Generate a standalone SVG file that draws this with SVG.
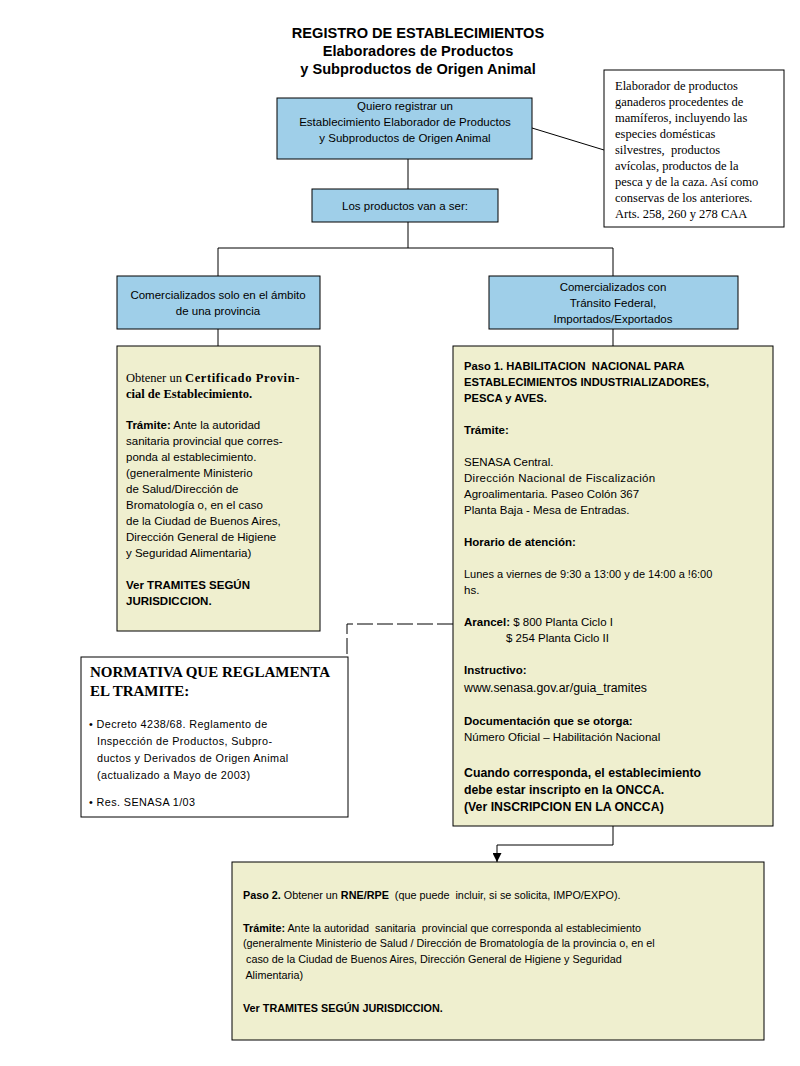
<svg xmlns="http://www.w3.org/2000/svg" width="800" height="1066" viewBox="0 0 800 1066">
<style>
.bg{fill:#ffffff}
.blue{fill:#9fcfe9;stroke:#000;stroke-width:1}
.yel{fill:#efefcf;stroke:#000;stroke-width:1}
.wht{fill:#ffffff;stroke:#000;stroke-width:1}
.con{fill:none;stroke:#000;stroke-width:1}
.dash{fill:none;stroke:#000;stroke-width:1;stroke-dasharray:16,4}
.title{font-family:"Liberation Sans",Arial,sans-serif;font-size:14.6px;font-weight:bold;fill:#000;text-anchor:middle}
.s{font-family:"Liberation Sans",Arial,sans-serif;font-size:11.5px;fill:#000}
.c{text-anchor:middle}
.b{font-weight:bold}
.serif{font-family:"Liberation Serif","Times New Roman",serif;font-size:12.5px;fill:#000}
.big{font-size:12.5px}
.p7{font-size:10.8px}
.norm{font-family:"Liberation Sans",Arial,sans-serif;font-size:10.8px;fill:#000;letter-spacing:0.4px}
</style>
<defs>
<marker id="arr" markerWidth="9" markerHeight="9" refX="9" refY="4.5" orient="auto" markerUnits="userSpaceOnUse">
<path d="M0,0 L9,4.5 L0,9 Z" fill="#000"/>
</marker>
</defs>
<rect class="bg" x="0" y="0" width="800" height="1066"/>

<g id="title">
<text class="title" x="418" y="38">REGISTRO DE ESTABLECIMIENTOS</text>
<text class="title" x="418" y="56">Elaboradores de Productos</text>
<text class="title" x="418" y="74">y Subproductos de Origen Animal</text>
</g>

<g id="connectors">
<line class="con" x1="532" y1="128" x2="604" y2="150"/>
<line class="con" x1="408" y1="159" x2="408" y2="189"/>
<polyline class="con" points="408,222 408,248"/>
<polyline class="con" points="218,276 218,248 613,248 613,276"/>
<line class="con" x1="218" y1="329" x2="218" y2="346"/>
<line class="con" x1="613" y1="329" x2="613" y2="346"/>
<polyline class="dash" points="453,624 347,624 347,657"/>
<polyline class="con" points="613,826 613,845 497,845 497,862" marker-end="url(#arr)"/>
</g>

<g id="n1">
<rect class="blue" x="277" y="98" width="255" height="61"/>
<text class="s c" x="405" y="110">Quiero registrar un</text>
<text class="s c" x="405" y="126">Establecimiento Elaborador de Productos</text>
<text class="s c" x="405" y="142">y Subproductos de Origen Animal</text>
</g>

<g id="note">
<rect class="wht" x="604" y="70" width="180" height="157"/>
<text class="serif" x="615" y="90">Elaborador de productos</text>
<text class="serif" x="615" y="106">ganaderos procedentes de</text>
<text class="serif" x="615" y="122">mamíferos, incluyendo las</text>
<text class="serif" x="615" y="138">especies domésticas</text>
<text class="serif" x="615" y="154" xml:space="preserve">silvestres,  productos</text>
<text class="serif" x="615" y="170">avícolas, productos de la</text>
<text class="serif" x="615" y="186">pesca y de la caza. Así como</text>
<text class="serif" x="615" y="202">conservas de los anteriores.</text>
<text class="serif" x="615" y="218">Arts. 258, 260 y 278 CAA</text>
</g>

<g id="n2">
<rect class="blue" x="312" y="189" width="186" height="33"/>
<text class="s c" x="405" y="210">Los productos van a ser:</text>
</g>

<g id="n3">
<rect class="blue" x="117" y="276" width="203" height="53"/>
<text class="s c" x="218" y="299">Comercializados solo en el ámbito</text>
<text class="s c" x="218" y="315">de una provincia</text>
</g>

<g id="n4">
<rect class="blue" x="489" y="276" width="249" height="53"/>
<text class="s c" x="613" y="291">Comercializados con</text>
<text class="s c" x="613" y="307">Tránsito Federal,</text>
<text class="s c" x="613" y="323">Importados/Exportados</text>
</g>

<g id="n5">
<rect class="yel" x="117" y="346" width="203" height="285"/>
<text class="serif" x="126" y="382">Obtener un <tspan class="b" style="letter-spacing:0.6px">Certificado Provin-</tspan></text>
<text class="serif b" x="126" y="398">cial de Establecimiento.</text>
<text class="s" x="126" y="429"><tspan class="b">Trámite:</tspan> Ante la autoridad</text>
<text class="s" x="126" y="445">sanitaria provincial que corres-</text>
<text class="s" x="126" y="461">ponda al establecimiento.</text>
<text class="s" x="126" y="477">(generalmente Ministerio</text>
<text class="s" x="126" y="493">de Salud/Dirección de</text>
<text class="s" x="126" y="509">Bromatología o, en el caso</text>
<text class="s" x="126" y="525">de la Ciudad de Buenos Aires,</text>
<text class="s" x="126" y="541">Dirección General de Higiene</text>
<text class="s" x="126" y="557">y Seguridad Alimentaria)</text>
<text class="s b" x="126" y="589">Ver TRAMITES SEGÚN</text>
<text class="s b" x="126" y="605">JURISDICCION.</text>
</g>

<g id="n6">
<rect class="yel" x="453" y="346" width="320" height="480"/>
<text class="s b" x="464" y="370" xml:space="preserve" style="font-size:11.2px">Paso 1. HABILITACION  NACIONAL PARA</text>
<text class="s b" x="464" y="386" style="font-size:11.2px">ESTABLECIMIENTOS INDUSTRIALIZADORES,</text>
<text class="s b" x="464" y="402" style="font-size:11.2px">PESCA y AVES.</text>
<text class="s b" x="464" y="434">Trámite:</text>
<text class="s" x="464" y="466">SENASA Central.</text>
<text class="s" x="464" y="482" style="letter-spacing:0.3px">Dirección Nacional de Fiscalización</text>
<text class="s" x="464" y="498">Agroalimentaria. Paseo Colón 367</text>
<text class="s" x="464" y="514">Planta Baja - Mesa de Entradas.</text>
<text class="s b" x="464" y="546">Horario de atención:</text>
<text class="s" x="464" y="578" style="font-size:11px">Lunes a viernes de 9:30 a 13:00 y de 14:00 a !6:00</text>
<text class="s" x="464" y="594">hs.</text>
<text class="s" x="464" y="626"><tspan class="b">Arancel:</tspan> $ 800 Planta Ciclo I</text>
<text class="s" x="506" y="642">$ 254 Planta Ciclo II</text>
<text class="s b" x="464" y="674">Instructivo:</text>
<text class="s" x="464" y="692" style="font-size:12.3px">www.senasa.gov.ar/guia_tramites</text>
<text class="s b" x="464" y="725">Documentación que se otorga:</text>
<text class="s" x="464" y="741">Número Oficial – Habilitación Nacional</text>
<text class="s b big" x="464" y="777" style="font-size:12.3px">Cuando corresponda, el establecimiento</text>
<text class="s b big" x="464" y="794" style="font-size:12.3px">debe estar inscripto en la ONCCA.</text>
<text class="s b big" x="464" y="811" style="font-size:12.3px">(Ver INSCRIPCION EN LA ONCCA)</text>
</g>

<g id="normativa">
<rect class="wht" x="81" y="657" width="267" height="160"/>
<text class="serif b" x="90" y="677" style="font-size:15px">NORMATIVA QUE REGLAMENTA</text>
<text class="serif b" x="90" y="696" style="font-size:15px">EL TRAMITE:</text>
<text class="norm" x="89" y="728">• Decreto 4238/68. Reglamento de</text>
<text class="norm" x="97" y="745">Inspección de Productos, Subpro-</text>
<text class="norm" x="97" y="762">ductos y Derivados de Origen Animal</text>
<text class="norm" x="97" y="779">(actualizado a Mayo de 2003)</text>
<text class="norm" x="89" y="806">• Res. SENASA 1/03</text>
</g>

<g id="n7">
<rect class="yel" x="232" y="862" width="532" height="178"/>
<text class="s p7" x="243" y="899" xml:space="preserve"><tspan class="b">Paso 2.</tspan> Obtener un <tspan class="b">RNE/RPE</tspan>  (que puede  incluir, si se solicita, IMPO/EXPO).</text>
<text class="s p7" x="243" y="932" xml:space="preserve"><tspan class="b">Trámite:</tspan> Ante la autoridad  sanitaria  provincial que corresponda al establecimiento</text>
<text class="s p7" x="243" y="947">(generalmente Ministerio de Salud / Dirección de Bromatología de la provincia o, en el</text>
<text class="s p7" x="243" y="963" xml:space="preserve"> caso de la Ciudad de Buenos Aires, Dirección General de Higiene y Seguridad</text>
<text class="s p7" x="243" y="979" xml:space="preserve"> Alimentaria)</text>
<text class="s b p7" x="243" y="1012">Ver TRAMITES SEGÚN JURISDICCION.</text>
</g>
</svg>
